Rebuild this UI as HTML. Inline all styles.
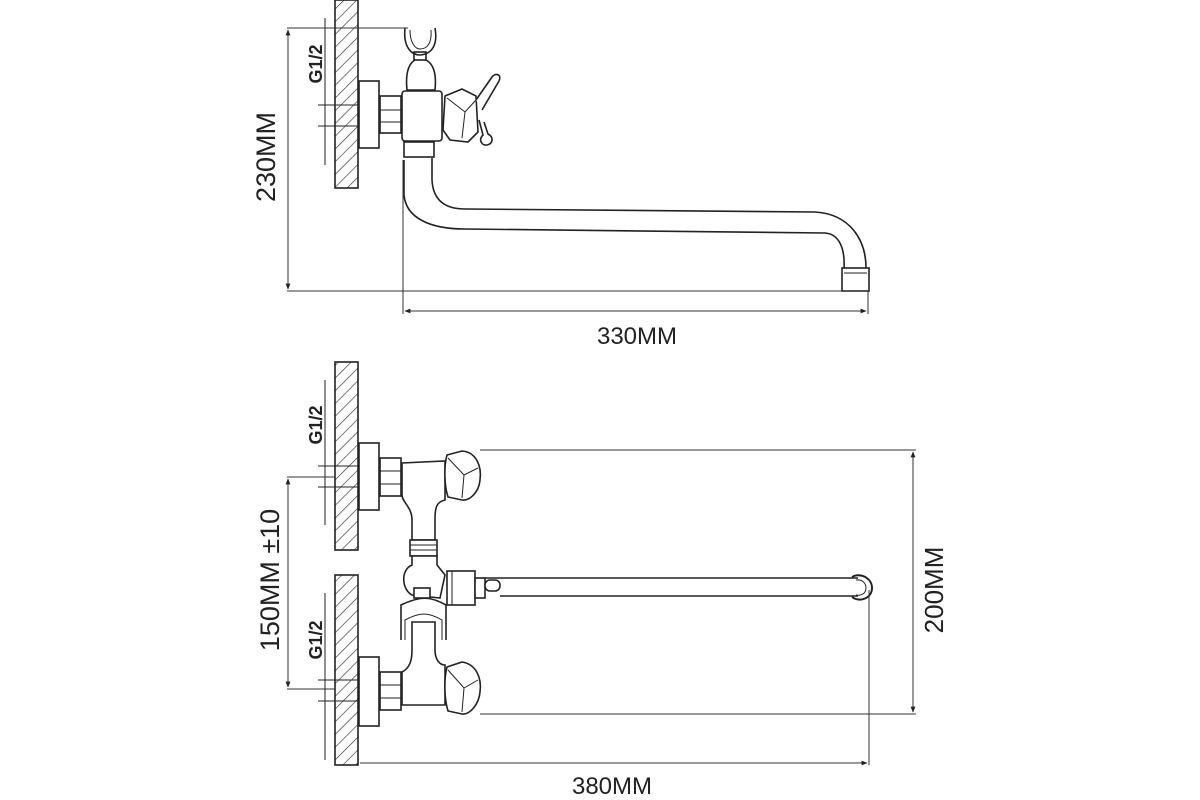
<!DOCTYPE html>
<html><head><meta charset="utf-8"><style>
html,body{margin:0;padding:0;background:#fff;}
svg{display:block;}
text{font-family:"Liberation Sans",sans-serif;fill:#222;}
</style></head><body>
<svg width="1200" height="800" viewBox="0 0 1200 800" xmlns="http://www.w3.org/2000/svg">
<defs>
<pattern id="h" width="9" height="9" patternUnits="userSpaceOnUse" patternTransform="rotate(45)">
<line x1="0" y1="0" x2="0" y2="9" stroke="#333" stroke-width="1.3"/>
</pattern>
<marker id="a" viewBox="0 0 10 10" refX="9" refY="5" markerWidth="6" markerHeight="6" orient="auto-start-reverse"><path d="M0,1 L10,5 L0,9z" fill="#222"/></marker>
</defs>
<g fill="none" stroke="#222" stroke-width="1.6">
<!-- TOP VIEW -->
<rect x="335" y="0" width="23" height="188" fill="url(#h)"/>
<line x1="325" y1="18" x2="325" y2="165" stroke-width="1"/>
<line x1="318" y1="105" x2="358" y2="105" stroke-width="1"/>
<line x1="318" y1="126" x2="358" y2="126" stroke-width="1"/>
<rect x="359" y="81" width="20" height="67" fill="#fff"/>
<rect x="380" y="96" width="21" height="37" fill="#fff"/>
<line x1="380" y1="110" x2="401" y2="110" stroke-width="1"/>
<line x1="380" y1="122" x2="401" y2="122" stroke-width="1"/>
<path d="M407,90 C405,70 410,60 420,58 C432,60 437,70 435,90 Z" fill="#fff"/>
<rect x="414" y="52" width="12" height="8" fill="#fff"/>
<path d="M405,28 C403,48 412,55 420,55 C432,54 438,45 435,28" />
<path d="M410,30 C410,44 416,49 420,49 C428,49 432,42 431,30" stroke-width="1"/>
<rect x="402" y="91" width="40" height="50" rx="3" fill="#fff"/>
<rect x="404" y="142" width="30" height="15" fill="#fff"/>
<path d="M445,96 L462,89 L476,96 L478,132 L468,142 L450,140 L443,130 Z" fill="#fff"/>
<path d="M447,98 L465,112 L476,100 M465,112 L462,138" stroke-width="1"/>
<path d="M476,100 L492,77 C496,72 502,75 499,81 L482,110" fill="#fff"/>
<path d="M479,120 L483,135 C478,140 482,146 487,145 C493,144 494,137 488,134 L484,122" fill="#fff"/>
<!-- spout top -->
<path d="M432,158 L432,180 C433,200 445,209 465,209 L815,212 C850,214 866,240 866,268"/>
<path d="M404,160 L404,195 C406,218 430,229 465,229 L825,233 C840,234 845,250 844,268"/>
<rect x="842" y="268" width="27" height="23" fill="#fff"/>
<line x1="844" y1="273" x2="867" y2="273" stroke-width="1"/>
</g>
<g fill="none" stroke="#333" stroke-width="1">
<line x1="287" y1="28" x2="408" y2="28"/>
<line x1="287" y1="291" x2="868" y2="291"/>
<line x1="288" y1="30" x2="288" y2="289" marker-start="url(#a)" marker-end="url(#a)"/>
<line x1="403" y1="160" x2="403" y2="314"/>
<line x1="868" y1="291" x2="868" y2="314"/>
<line x1="405" y1="311" x2="866" y2="311" marker-start="url(#a)" marker-end="url(#a)"/>
</g>
<text x="0" y="0" font-size="27" text-anchor="middle" transform="translate(275,157) rotate(-90)">230MM</text>
<text x="0" y="0" font-size="18" font-weight="bold" text-anchor="middle" transform="translate(322,64) rotate(-90)">G1/2</text>
<text x="637" y="344" font-size="24" text-anchor="middle">330MM</text>

<!-- BOTTOM VIEW -->
<g fill="none" stroke="#222" stroke-width="1.6">
<rect x="335" y="362" width="23" height="188" fill="url(#h)"/>
<rect x="335" y="575" width="23" height="190" fill="url(#h)"/>
<line x1="325" y1="380" x2="325" y2="525" stroke-width="1"/>
<line x1="325" y1="593" x2="325" y2="760" stroke-width="1"/>
<line x1="318" y1="466" x2="358" y2="466" stroke-width="1"/>
<line x1="318" y1="487" x2="358" y2="487" stroke-width="1"/>
<line x1="318" y1="680" x2="358" y2="680" stroke-width="1"/>
<line x1="318" y1="701" x2="358" y2="701" stroke-width="1"/>
<!-- upper -->
<rect x="359" y="443" width="20" height="67" fill="#fff"/>
<rect x="380" y="458" width="21" height="38" fill="#fff"/>
<line x1="380" y1="471" x2="401" y2="471" stroke-width="1"/>
<line x1="380" y1="484" x2="401" y2="484" stroke-width="1"/>
<path d="M402,463 L445,461 L445,500 C436,502 435,508 435,520 L435,540 L412,540 L412,520 C412,507 402,502 402,495 Z" fill="#fff"/>
<path d="M447,455 L462,451 C476,452 482,466 480,480 C479,492 470,501 462,500 L448,497 C444,485 444,465 447,455 Z" fill="#fff"/>
<path d="M448,458 L464,475 L478,468 M464,475 L462,498" stroke-width="1"/>
<!-- rings -->
<rect x="410" y="540" width="27" height="16" fill="#fff"/>
<line x1="410" y1="545" x2="437" y2="545" stroke-width="1"/>
<line x1="410" y1="550" x2="437" y2="550" stroke-width="1"/>
<!-- diverter -->
<path d="M412,556 L412,565 C400,570 402,590 412,595 L440,598 L445,575 L437,565 L437,556 Z" fill="#fff"/>
<rect x="414" y="588" width="16" height="10" fill="#fff"/>
<rect x="447" y="571" width="28" height="34" fill="#fff"/>
<line x1="452" y1="571" x2="452" y2="605" stroke-width="1"/>
<rect x="475" y="578" width="10" height="20" fill="#fff"/>
<rect x="485" y="580" width="15" height="11" rx="5" fill="#fff"/>
<!-- spout -->
<line x1="485" y1="578" x2="858" y2="578"/>
<line x1="500" y1="596" x2="858" y2="596"/>
<path d="M852,577 C860,572 872,578 872,588 C872,598 860,603 852,597" stroke-width="2"/>
<path d="M856,580 C862,579 866,583 866,588 C866,593 862,596 856,595" stroke-width="1"/>
<!-- holder -->
<path d="M401,640 L401,605 C420,596 430,596 446,605 L446,640" fill="#fff"/>
<path d="M405,640 L405,620 C420,612 428,612 442,620 L442,640" stroke-width="1"/>
<!-- lower -->
<path d="M412,622 L435,622 L435,650 C435,660 440,665 445,665 L445,705 L402,705 L402,672 C410,668 412,660 412,650 Z" fill="#fff"/>
<path d="M447,667 L462,662 C476,664 482,678 480,692 C479,704 470,715 462,714 L448,711 C444,698 444,678 447,667 Z" fill="#fff"/>
<path d="M448,670 L464,688 L478,680 M464,688 L462,712" stroke-width="1"/>
<rect x="380" y="672" width="21" height="38" fill="#fff"/>
<line x1="380" y1="685" x2="401" y2="685" stroke-width="1"/>
<line x1="380" y1="698" x2="401" y2="698" stroke-width="1"/>
<rect x="359" y="657" width="20" height="69" fill="#fff"/>
</g>
<g fill="none" stroke="#333" stroke-width="1">
<line x1="287" y1="477" x2="335" y2="477"/>
<line x1="287" y1="689" x2="335" y2="689"/>
<line x1="288" y1="479" x2="288" y2="687" marker-start="url(#a)" marker-end="url(#a)"/>
<line x1="480" y1="450" x2="916" y2="450"/>
<line x1="480" y1="714" x2="916" y2="714"/>
<line x1="913" y1="452" x2="913" y2="712" marker-start="url(#a)" marker-end="url(#a)"/>
<line x1="869" y1="590" x2="869" y2="765"/>
<line x1="360" y1="763" x2="867" y2="763" marker-end="url(#a)"/>
</g>
<text x="0" y="0" font-size="27" text-anchor="middle" transform="translate(279,580) rotate(-90)">150MM  ±10</text>
<text x="0" y="0" font-size="18" font-weight="bold" text-anchor="middle" transform="translate(322,425) rotate(-90)">G1/2</text>
<text x="0" y="0" font-size="18" font-weight="bold" text-anchor="middle" transform="translate(322,640) rotate(-90)">G1/2</text>
<text x="0" y="0" font-size="26" text-anchor="middle" transform="translate(943,590) rotate(-90)">200MM</text>
<text x="612" y="794" font-size="24" text-anchor="middle">380MM</text>
</svg>
</body></html>
